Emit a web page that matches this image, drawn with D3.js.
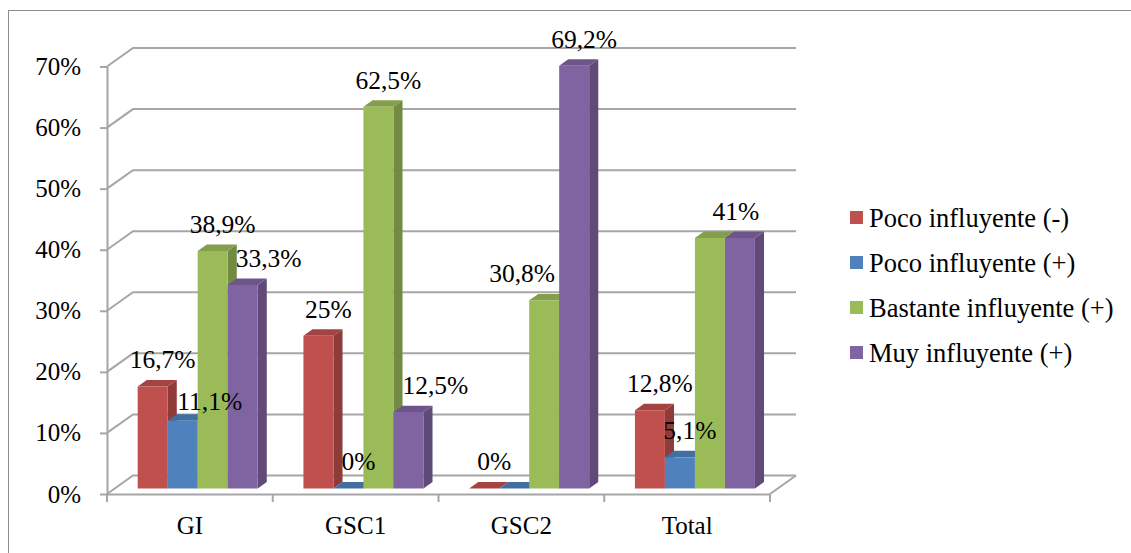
<!DOCTYPE html>
<html>
<head>
<meta charset="utf-8">
<script src="https://cdn.jsdelivr.net/npm/d3@7"></script>
<style>
  body { margin: 0; background: #fff; }
  svg { display: block; }
  svg text { font-family: "Liberation Serif", "Times New Roman", serif !important; fill: #000; }
  .axis path, .axis line { stroke: #a6a6a6; stroke-width: 2; }
  .axis text { font-size: 25px; }
</style>
</head>
<body>
<script>
// data
var categories = ["GI", "GSC1", "GSC2", "Total"];
var seriesNames = ["Poco influyente (-)", "Poco influyente (+)", "Bastante influyente (+)", "Muy influyente (+)"];
var pocoNeg = [16.7, 25, 0, 12.8];
var pocoPos = [11.1, 0, 0, 5.1];
var bastante = [38.9, 62.5, 30.8, 41];
var muy = [33.3, 12.5, 69.2, 41];
var yTicks = [0, 10, 20, 30, 40, 50, 60, 70];

var seriesValues = [pocoNeg, pocoPos, bastante, muy];
var colors = ["#C0504D", "#4F81BD", "#9BBB59", "#8064A2"];

var width = 1131, height = 553;
var DX = 26, DY = 18.5;       // depth of the floor/back wall
var z0 = 0.3, z1 = 0.65;      // depth where bars sit

// labels that Excel moved by hand (dx, dy), and the ones that are hidden
var nudge = { "1-0": [17, 7], "3-0": [16, 0], "3-1": [17, 0], "2-2": [-32, 0], "3-3": [-14, 0] };
var hidden = { "2-3": true, "1-2": true };

var loc = d3.formatLocale({ decimal: ",", thousands: ".", grouping: [3], currency: ["", "€"] });
var fmt = loc.format(".3~r");

var svg = d3.select("body").append("svg")
    .attr("width", width)
    .attr("height", height);

// outer frame
svg.append("rect")
    .attr("x", 8.5).attr("y", 10.5)
    .attr("width", width).attr("height", height)
    .attr("fill", "none")
    .attr("stroke", "#8c8c8c")
    .attr("stroke-width", 1);

var x = d3.scaleBand()
    .domain(categories)
    .range([107, 770]);

var xs = d3.scaleBand()
    .domain(d3.range(seriesNames.length))
    .range([0, 120]);

var y = d3.scaleLinear()
    .domain([0, 70])
    .range([494, 66.5]);

function P(px, v, z) { return [px + z * DX, y(v) - z * DY]; }

var grid = svg.append("g")
    .attr("fill", "none")
    .attr("stroke", "#a6a6a6")
    .attr("stroke-width", 2);

// back wall gridlines + left wall diagonals
yTicks.forEach(function (t) {
    var a = P(x.range()[0], t, 0), b = P(x.range()[0], t, 1), c = P(x.range()[1], t, 1);
    grid.append("polyline")
        .attr("points", [a, b, c].map(function (p) { return p.join(","); }).join(" "));
});

// floor right edge
var fr0 = P(x.range()[1], 0, 0), fr1 = P(x.range()[1], 0, 1);
grid.append("line")
    .attr("x1", fr0[0]).attr("y1", fr0[1])
    .attr("x2", fr1[0]).attr("y2", fr1[1]);

// y axis
svg.append("g")
    .attr("class", "axis")
    .attr("transform", "translate(" + x.range()[0] + ",0)")
    .call(d3.axisLeft(y)
        .tickValues(yTicks)
        .tickFormat(function (d) { return d + "%"; })
        .tickSize(7)
        .tickSizeOuter(0)
        .tickPadding(19))
    .attr("font-family", null)
    .attr("font-size", null);

// x axis
var xAxis = svg.append("g")
    .attr("class", "axis")
    .attr("transform", "translate(0," + y(0) + ")")
    .call(d3.axisBottom(x).tickSize(0).tickSizeOuter(0).tickPadding(22))
    .attr("font-family", null)
    .attr("font-size", null);

xAxis.selectAll(".bnd")
    .data(categories.map(function (c) { return x(c); }).concat([x.range()[1]]))
    .enter().append("line")
    .attr("x1", function (d) { return d; })
    .attr("x2", function (d) { return d; })
    .attr("y1", 0)
    .attr("y2", 8);

// bars
var bars = svg.append("g");
var labels = [];

categories.forEach(function (cat, ci) {
    seriesValues.forEach(function (vals, si) {
        var v = vals[ci];
        var left = x(cat) + (x.bandwidth() - 120) / 2 + xs(si);
        var right = left + xs.bandwidth();
        var fbl = P(left, 0, z0), fbr = P(right, 0, z0),
            ftl = P(left, v, z0), ftr = P(right, v, z0),
            btl = P(left, v, z1), btr = P(right, v, z1),
            bbr = P(right, 0, z1);
        var col = d3.color(colors[si]);

        bars.append("polygon")
            .attr("points", [fbr, ftr, btr, bbr].join(" "))
            .attr("fill", col.darker(0.85));
        bars.append("polygon")
            .attr("points", [ftl, ftr, btr, btl].join(" "))
            .attr("fill", col.darker(0.45));
        bars.append("polygon")
            .attr("points", [fbl, fbr, ftr, ftl].join(" "))
            .attr("fill", col);

        var key = si + "-" + ci;
        if (!hidden[key]) {
            var n = nudge[key] || [0, 0];
            labels.push({
                x: (ftl[0] + ftr[0]) / 2 + 10 + n[0],
                y: ftl[1] - 18 + n[1],
                t: fmt(v) + "%"
            });
        }
    });
});

svg.append("g")
    .selectAll("text")
    .data(labels)
    .enter().append("text")
    .attr("x", function (d) { return d.x; })
    .attr("y", function (d) { return d.y; })
    .attr("text-anchor", "middle")
    .style("font-size", "25.5px")
    .text(function (d) { return d.t; });

// legend
var legend = svg.append("g")
    .selectAll("g")
    .data(seriesNames)
    .enter().append("g")
    .attr("transform", function (d, i) { return "translate(850," + (227 + i * 45) + ")"; });

legend.append("rect")
    .attr("x", 0).attr("y", -16)
    .attr("width", 13).attr("height", 13)
    .attr("fill", function (d, i) { return colors[i]; });

legend.append("text")
    .attr("x", 19)
    .attr("y", 0)
    .style("font-size", "26.5px")
    .text(function (d) { return d; });
</script>
</body>
</html>
